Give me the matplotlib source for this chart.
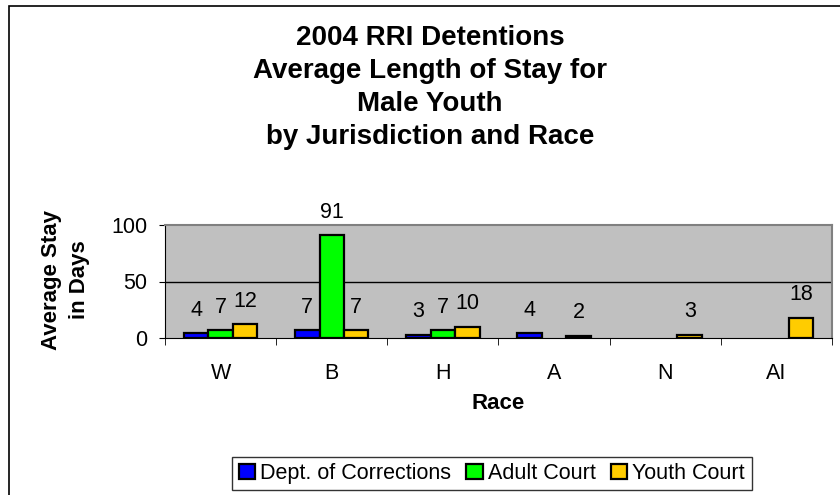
import numpy as np
import matplotlib.pyplot as plt
from matplotlib.patches import Rectangle

plt.rcParams['font.family'] = ['Liberation Sans', 'DejaVu Sans']

races = ["W", "B", "H", "A", "N", "AI"]
doc = [4, 7, 3, 4, None, None]
adult = [7, 91, 7, None, None, None]
youth = [12, 7, 10, 2, 3, 18]
series = [("Dept. of Corrections", doc, "#0000FF"),
          ("Adult Court", adult, "#00FF00"),
          ("Youth Court", youth, "#FFCC00")]

fig = plt.figure(figsize=(8.4, 4.95), dpi=100)
# plot area: x 165..832 px, y 225..338 px
ax = fig.add_axes([165 / 840, 1 - 338 / 495, 667 / 840, 113 / 495])
ax.set_facecolor("#C0C0C0")

x = np.arange(len(races))
w = 0.22
for k, (name, vals, col) in enumerate(series):
    for i, v in enumerate(vals):
        if v is None:
            continue
        xi = x[i] + (k - 1) * w
        ax.bar(xi, v, width=w, color=col, edgecolor="black", linewidth=1.6, zorder=3)
        ax.annotate(str(v), (xi, v), xytext=(0, 9), textcoords="offset points",
                    ha="center", va="bottom", fontsize=15.5)
    ax.bar(0, 0, width=0, color=col, edgecolor="black", linewidth=1.6, label=name)

ax.set_xlim(-0.5, len(races) - 0.5)
ax.set_ylim(0, 100)
ax.set_yticks([0, 50, 100])
ax.axhline(50, color="black", linewidth=1, zorder=1)
ax.set_xticks(x)
ax.set_xticklabels(races)
ax.set_xticks(np.arange(len(races) + 1) - 0.5, minor=True)
ax.tick_params(axis="x", which="major", length=0, pad=18, labelsize=15.5)
ax.tick_params(axis="x", which="minor", length=5, direction="out")
ax.tick_params(axis="y", length=4.5, pad=8, labelsize=15.5)
for s in ("top", "right"):
    ax.spines[s].set_color("#808080")
    ax.spines[s].set_linewidth(1.5)

ax.set_xlabel("Race", fontsize=16, fontweight="bold")
ax.xaxis.set_label_coords(0.5, -0.49)
ax.set_ylabel("Average Stay\nin Days", fontsize=16, fontweight="bold", linespacing=1.43)
ax.yaxis.set_label_coords(-0.112, 0.513)

fig.text(430 / 840, 1 - 25 / 495,
         "2004 RRI Detentions\nAverage Length of Stay for\nMale Youth\nby Jurisdiction and Race",
         ha="center", va="top", fontsize=20, fontweight="bold", linespacing=1.35)

leg = fig.legend(loc="center", bbox_to_anchor=(492 / 840, 1 - 473.5 / 495), ncol=3,
                 fontsize=15.5, frameon=True, fancybox=False, edgecolor="black",
                 handlelength=0.75, handleheight=0.75, handletextpad=0.25,
                 columnspacing=0.7, borderpad=0.3, borderaxespad=0)
leg.get_frame().set_linewidth(1)

# chart border (right and bottom edges fall outside the image)
fig.patches.append(Rectangle((9 / 840, -0.1), 1.2, 1.1 - 6 / 495, transform=fig.transFigure,
                             fill=False, edgecolor="black", linewidth=1.2))

fig.savefig("out.png", dpi=100)
